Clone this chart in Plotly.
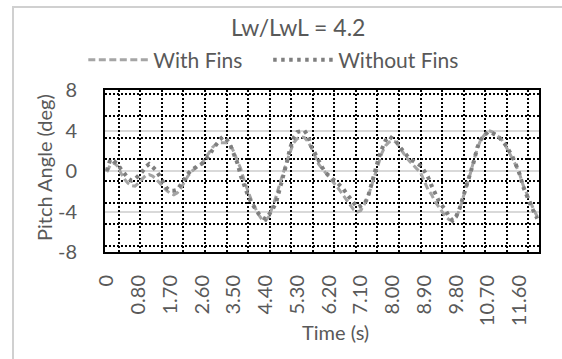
import plotly.graph_objects as go

# ---- data ----
TICK_LABELS = ["0", "0.80", "1.70", "2.60", "3.50", "4.40", "5.30", "6.20",
               "7.10", "8.00", "8.90", "9.80", "10.70", "11.60"]
TICK_STEP = 9
Y_TICKS = [-8, -4, 0, 4, 8]
Y_TICK_LABELS = ["-8", "-4", "0", "4", "8"]

WITH_FINS = [
    -0.1, 0.6, 0.8, 0.5, -0.2, -0.8, -1.2, -1.45, -1.5, -1.2,
    -0.8, -0.45, -0.35, -0.5, -0.8, -1.2, -1.6, -1.95, -2.2, -2.35,
    -2.15, -1.7, -1.1, -0.5, -0.05, 0.25, 0.5, 0.75, 1.3, 1.8,
    2.35, 2.65, 2.8, 2.8, 2.8, 2.6, 1.9, 1.0, 0.2, -1.0,
    -2.0, -2.9, -3.6, -4.3, -4.8, -4.9, -4.5, -3.6, -2.5, -1.3,
    -0.1, 0.9, 1.9, 2.8, 3.2, 3.4, 3.3, 2.9, 2.3, 1.4,
    0.7, 0.25, -0.15, -0.55, -1.0, -1.45, -1.9, -2.4, -2.9, -3.45,
    -3.85, -4.05, -3.9, -3.3, -2.6, -1.5, -0.5, 0.7, 1.8, 2.5,
    2.85, 2.95, 2.85, 2.3, 1.8, 1.3, 0.9, 0.5, 0.2, -0.2,
    -1.0, -1.8, -2.3, -3.0, -3.5, -4.0, -4.5, -4.8, -4.9, -4.6,
    -3.8, -2.6, -1.5, -0.3, 1.0, 2.2, 3.1, 3.6, 4.0, 3.9,
    3.7, 3.4, 3.05, 2.5, 1.9, 1.2, 0.5, -0.3, -1.4, -2.3,
    -3.0, -3.8, -4.5,
]

WITHOUT_FINS = [
    0.0, 1.15, 1.0, 0.7, 0.2, -0.3, -0.7, -0.95, -0.8, -0.45,
    -0.1, 0.4, 0.69, 0.4, 0.05, -0.5, -1.1, -1.7, -1.95, -1.95,
    -1.85, -1.3, -0.75, -0.3, 0.1, 0.35, 0.55, 0.72, 1.1, 1.5,
    2.1, 2.65, 3.1, 3.4, 3.1, 2.55, 1.7, 0.8, -0.5, -1.5,
    -2.4, -3.15, -3.75, -4.2, -4.55, -4.75, -4.3, -3.8, -3.1, -1.9,
    -0.6, 0.8, 2.3, 3.3, 3.85, 3.95, 4.0, 3.5, 2.4, 1.75,
    1.0, 0.4, -0.15, -0.5, -0.8, -1.05, -1.4, -1.75, -2.25, -2.75,
    -3.2, -3.6, -3.45, -3.25, -2.6, -1.3, -0.1, 1.2, 2.2, 3.0,
    3.45, 3.2, 2.95, 2.4, 1.9, 1.55, 1.2, 0.95, 0.75, 0.5,
    0.0, -0.55, -1.4, -2.2, -2.9, -3.4, -3.85, -4.5, -4.9, -4.5,
    -3.7, -2.55, -1.45, -0.3, 0.9, 2.3, 3.1, 3.5, 3.85, 3.8,
    3.6, 3.4, 3.0, 2.6, 2.0, 1.4, 0.6, -0.3, -1.55, -2.5,
    -3.25, -4.0, -4.7,
]

N = len(WITH_FINS)
X = list(range(N))
TICK_VALS = [i * TICK_STEP for i in range(len(TICK_LABELS))]

FONT = "Lato"
TXT = "#595959"

fig = go.Figure()
fig.add_trace(go.Scatter(
    x=X, y=WITH_FINS, mode="lines", name="With Fins", legend="legend",
    line=dict(color="#A5A5A5", width=3, dash="7px,3.5px"),
))
fig.add_trace(go.Scatter(
    x=X, y=WITHOUT_FINS, mode="lines", name="Without Fins", legend="legend2",
    line=dict(color="#7F7F7F", width=4, dash="3.5px,4.5px"),
))
# empty trace to host the dotted secondary grid
fig.add_trace(go.Scatter(x=[], y=[], xaxis="x2", yaxis="y2",
                         showlegend=False, hoverinfo="skip"))

LEG = dict(orientation="h", xanchor="left", y=1.185, yanchor="middle",
           font=dict(size=21, color=TXT), itemwidth=60,
           bgcolor="rgba(0,0,0,0)")

fig.update_layout(
    width=562, height=359,
    margin=dict(l=105, r=23, t=90, b=107),
    paper_bgcolor="white", plot_bgcolor="white",
    font=dict(family=FONT, color=TXT, size=20),
    showlegend=True,
    legend=dict(LEG, x=-0.05),
    legend2=dict(LEG, x=0.376),
    xaxis=dict(range=[-0.5, N - 0.5], tickmode="array",
               tickvals=TICK_VALS, ticktext=TICK_LABELS, tickangle=-90,
               showgrid=False, zeroline=False, showline=True,
               linecolor="black", linewidth=2, mirror=True,
               ticks="", ticklabelstandoff=13,
               tickfont=dict(size=20, color=TXT)),
    yaxis=dict(range=[-8, 8], tickmode="array", tickvals=Y_TICKS,
               ticktext=Y_TICK_LABELS, showgrid=True,
               gridcolor="#D9D9D9", gridwidth=2, zeroline=False,
               showline=True, linecolor="black", linewidth=2, mirror=True,
               ticks="", ticklabelstandoff=22,
               tickfont=dict(size=20, color=TXT)),
    xaxis2=dict(overlaying="x", anchor="y2", range=[-0.636, 19.49],
                dtick=1, tick0=0, showgrid=True, gridcolor="black",
                gridwidth=2, griddash="2px,2px", showticklabels=False,
                ticks="", zeroline=False, showline=False),
    yaxis2=dict(overlaying="y", anchor="x2", range=[-0.277, 7.197],
                dtick=1, tick0=0, showgrid=True, gridcolor="black",
                gridwidth=2, griddash="2px,2px", showticklabels=False,
                ticks="", zeroline=False, showline=False, side="left"),
    annotations=[
        dict(text="Lw/LwL = 4.2", xref="paper", yref="paper",
             x=0.445, y=1.185 + 33 / 162, xanchor="center", yanchor="middle",
             showarrow=False, font=dict(size=23, color=TXT)),
        dict(text="Time (s)", xref="paper", yref="paper",
             x=0.53, y=-0.494, xanchor="center", yanchor="middle",
             showarrow=False, font=dict(size=20, color=TXT)),
        dict(text="Pitch Angle (deg)", xref="paper", yref="paper",
             x=-0.1406, y=0.525, xanchor="center", yanchor="middle",
             textangle=-90, showarrow=False, font=dict(size=20, color=TXT)),
    ],
    shapes=[
        dict(type="rect", xref="paper", yref="paper",
             x0=-0.212, x1=1.3, y0=-1.2, y1=1.512,
             line=dict(color="#D0D0D0", width=2), layer="below"),
    ],
)

fig.write_html("out.html", config={"displayModeBar": False},
               post_script="document.body.style.margin='0';"
                           "document.body.style.overflow='hidden';")
